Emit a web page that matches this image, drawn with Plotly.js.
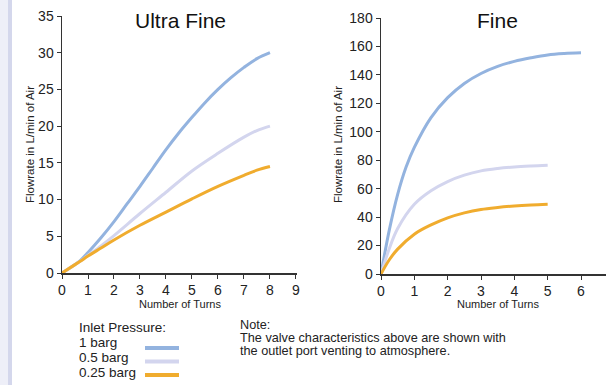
<!DOCTYPE html>
<html><head><meta charset="utf-8">
<script src="https://cdn.plot.ly/plotly-3.0.1.min.js"></script>
<style>
html,body{margin:0;padding:0;background:#fff;}
#wrap{position:relative;width:606px;height:385px;background:linear-gradient(to right,#eeeff8 0px,#eeeff8 8px,#d4d7ec 8px,#d4d7ec 12px,#ffffff 12px);}
#plot{position:absolute;left:0;top:0;width:606px;height:385px;}
</style></head>
<body><div id="wrap"><div id="plot"></div></div>
<script>
// Ultra Fine (left)
const ufTurns1 = [0, 0.35, 0.7, 1, 1.5, 2, 2.5, 3, 3.5, 4, 4.5, 5, 5.5, 6, 6.5, 7, 7.5, 8];
const uf1 = [0, 0.8, 1.7, 2.8, 4.8, 7.0, 9.4, 11.8, 14.3, 16.8, 19.1, 21.2, 23.2, 25.0, 26.6, 28.0, 29.2, 30.0];
const ufTurnsLow = [0, 0.35, 0.7, 1, 1.5, 2, 3, 4, 5, 6, 7, 7.5, 8];
const uf05 = [0, 0.8, 1.6, 2.4, 3.7, 5.1, 8.1, 11.0, 13.9, 16.3, 18.5, 19.4, 20.0];
const uf025 = [0, 0.8, 1.6, 2.3, 3.4, 4.5, 6.5, 8.3, 10.1, 11.8, 13.3, 14.0, 14.5];
// Fine (right)
const fTurns1 = [0, 0.25, 0.5, 0.75, 1, 1.5, 2, 2.5, 3, 3.5, 4, 4.5, 5, 5.5, 6];
const f1 = [0, 31, 56, 75, 89, 110, 124, 134, 141, 146, 149.5, 152, 154, 155, 155.5];
const fTurnsLow = [0, 0.25, 0.5, 1, 1.5, 2, 2.5, 3, 3.5, 4, 4.5, 5];
const f05 = [0, 18, 32, 49, 58.5, 65, 69.5, 72.5, 74.2, 75.3, 76, 76.5];
const f025 = [0, 10, 17.5, 28, 34.5, 39.5, 43, 45.4, 46.8, 47.8, 48.5, 49];

const seriesNames = ['1 barg', '0.5 barg', '0.25 barg'];
const colors = ['#93b3df', '#d3d5ee', '#f0ac2e'];

const FONT = 'Liberation Sans, Arial, sans-serif';
const traces = [];
const ufX = [ufTurns1, ufTurnsLow, ufTurnsLow];
const ufY = [uf1, uf05, uf025];
const fX = [fTurns1, fTurnsLow, fTurnsLow];
const fY = [f1, f05, f025];
for (let i = 0; i < 3; i++) {
  traces.push({x: ufX[i], y: ufY[i], type: 'scatter', mode: 'lines', name: seriesNames[i],
    line: {color: colors[i], width: 3, shape: 'spline', smoothing: 1}, xaxis: 'x', yaxis: 'y', showlegend: false});
}
for (let i = 0; i < 3; i++) {
  traces.push({x: fX[i], y: fY[i], type: 'scatter', mode: 'lines', name: seriesNames[i],
    line: {color: colors[i], width: 3, shape: 'spline', smoothing: 1}, xaxis: 'x2', yaxis: 'y2', showlegend: false});
}
const W = 606, H = 385;
const px = v => v / W, py = v => (H - v) / H;
const axCommon = {showline: true, linecolor: '#333', linewidth: 1.5, ticks: 'outside', ticklen: 4, tickcolor: '#333',
  showgrid: false, zeroline: false, tickfont: {family: FONT, size: 14, color: '#222'}, fixedrange: true};

function ann(text, x, y, size, extra) {
  return Object.assign({text: text, x: px(x), y: py(y), xref: 'paper', yref: 'paper', showarrow: false,
    xanchor: 'center', yanchor: 'middle', font: {family: FONT, size: size, color: '#222'}}, extra || {});
}

const layout = {
  width: W, height: H, margin: {l: 0, r: 0, t: 0, b: 0},
  paper_bgcolor: 'rgba(0,0,0,0)', plot_bgcolor: 'rgba(0,0,0,0)', showlegend: false,
  xaxis: Object.assign({}, axCommon, {domain: [px(62), px(297)], range: [0, 9.04], tickvals: [0,1,2,3,4,5,6,7,8,9], anchor: 'y'}),
  yaxis: Object.assign({}, axCommon, {domain: [py(273), py(16)], range: [0, 35], tickvals: [0,5,10,15,20,25,30,35], anchor: 'x'}),
  xaxis2: Object.assign({}, axCommon, {domain: [px(381), px(606)], range: [0, 6.75], tickvals: [0,1,2,3,4,5,6], anchor: 'y2'}),
  yaxis2: Object.assign({}, axCommon, {domain: [py(274), py(18)], range: [0, 180], tickvals: [0,20,40,60,80,100,120,140,160,180], anchor: 'x2'}),
  annotations: [
    ann('Ultra Fine', 180, 20, 21, {font: {family: FONT, size: 21, color: '#111'}}),
    ann('Fine', 497, 20, 21, {font: {family: FONT, size: 21, color: '#111'}}),
    ann('Flowrate in L/min of Air', 30, 145, 11.5, {textangle: -90}),
    ann('Flowrate in L/min of Air', 338, 145, 11.5, {textangle: -90}),
    ann('Number of Turns', 180, 304, 11),
    ann('Number of Turns', 498, 304, 11),
    ann('Inlet Pressure:', 77, 327, 13.5, {xanchor: 'left'}),
    ann(seriesNames[0], 77, 342, 13.5, {xanchor: 'left'}),
    ann(seriesNames[1], 77, 357, 13.5, {xanchor: 'left'}),
    ann(seriesNames[2], 77, 372, 13.5, {xanchor: 'left'}),
    ann('Note:', 238, 325, 12.7, {xanchor: 'left'}),
    ann('The valve characteristics above are shown with', 238, 338, 12.7, {xanchor: 'left'}),
    ann('the outlet port venting to atmosphere.', 238, 351, 12.7, {xanchor: 'left'})
  ],
  shapes: [0,1,2].map(i => ({type: 'line', xref: 'paper', yref: 'paper', x0: px(145), x1: px(179), y0: py(348 + i*13.5), y1: py(348 + i*13.5), line: {color: colors[i], width: 4}}))
};
Plotly.newPlot('plot', traces, layout, {displayModeBar: false, staticPlot: true});
</script></body></html>
